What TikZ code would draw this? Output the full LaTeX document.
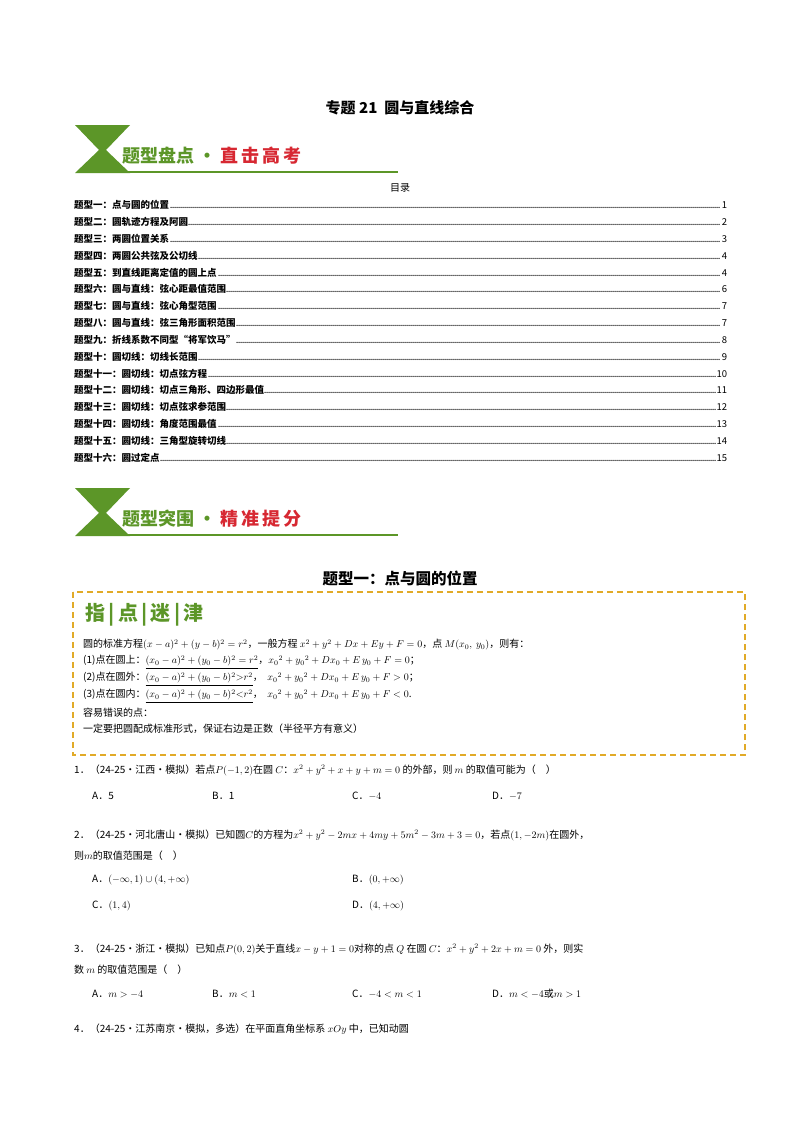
\documentclass[tikz,border=0pt]{standalone}
\usepackage{fontspec}
\setmainfont{Noto Sans CJK SC}
\usepackage{amsmath}
\begin{document}
\begin{tikzpicture}[x=1pt,y=-1pt,
  toc/.style={anchor=west,inner sep=0pt,text width=653pt,font=\fontsize{9.5}{11}\selectfont},
  txt/.style={anchor=west,inner sep=0pt,font=\fontsize{10}{12}\selectfont},
  ban/.style={anchor=west,inner sep=0pt,font=\fontsize{18}{20}\selectfont\bfseries}]
\definecolor{gr}{RGB}{92,150,40}
\definecolor{rd}{RGB}{215,40,50}
\definecolor{og}{RGB}{225,170,40}
\useasboundingbox (0,0) rectangle (800,1132);
\fill[white] (0,0) rectangle (800,1132);
\node[inner sep=0pt,font=\fontsize{15}{17}\selectfont\bfseries] (title) at (400,108) {专题 21\ \ 圆与直线综合};
% banner 1
\fill[gr] (75,125)--(130,125)--(106,150)--(130,173)--(75,173)--(99,150)--cycle;
\draw[gr,line width=1.2pt] (120,172)--(398,172);
\node[ban] (b1) at (122,156) {\textcolor{gr}{题型盘点\ ·\ }\textcolor{rd}{直\,击\,高\,考}};
\node[inner sep=0pt,font=\fontsize{10}{11}\selectfont] (ml) at (400,188) {目录};
\foreach \t/\p [count=\i] in {点与圆的位置/1,圆轨迹方程及阿圆/2,两圆位置关系/3,两圆公共弦及公切线/4,到直线距离定值的圆上点/4,圆与直线：弦心距最值范围/6,圆与直线：弦心角型范围/7,圆与直线：弦三角形面积范围/7,折线系数不同型“将军饮马”/8,圆切线：切线长范围/9,圆切线：切点弦方程/10,圆切线：切点三角形、四边形最值/11,圆切线：切点弦求参范围/12,圆切线：角度范围最值/13,圆切线：三角型旋转切线/14,圆过定点/15}{
  \pgfmathsetmacro\yy{205+16.85*(\i-1)}
  \node[toc] (t\i) at (74,\yy) {\textbf{题型\ifcase\i\or 一\or 二\or 三\or 四\or 五\or 六\or 七\or 八\or 九\or 十\or 十一\or 十二\or 十三\or 十四\or 十五\or 十六\fi：\t}\leaders\hbox to 2pt{\hss.\hss}\hfill\p};
}
% banner 2
\fill[gr] (75,488)--(130,488)--(106,513)--(130,536)--(75,536)--(99,513)--cycle;
\draw[gr,line width=1.2pt] (120,535)--(398,535);
\node[ban] (b2) at (122,519) {\textcolor{gr}{题型突围\ ·\ }\textcolor{rd}{精\,准\,提\,分}};
\node[inner sep=0pt,font=\fontsize{15.5}{17}\selectfont\bfseries] (h1) at (400,578) {题型一：点与圆的位置};
\draw[og,line width=1.3pt,dash pattern=on 6pt off 4pt] (73,592) rectangle (745,755);
\node[anchor=west,inner sep=0pt,font=\fontsize{20}{22}\selectfont\bfseries,text=gr] (zd) at (85,615) {指\,\textbf{|}\,点\,\textbf{|}\,迷\,\textbf{|}\,津};
\node[txt] (l1) at (83,645) {圆的标准方程$(x-a)^2+(y-b)^2=r^2$，一般方程 $x^2+y^2+Dx+Ey+F=0$，点 $M(x_0,\ y_0)$，则有：};
\node[txt] (l2) at (83,662) {(1)点在圆上：\underline{$(x_0-a)^2+(y_0-b)^2=r^2$}，$x_0{}^2+y_0{}^2+Dx_0+E\,y_0+F=0$；};
\node[txt] (l3) at (83,679) {(2)点在圆外：\underline{$(x_0-a)^2+(y_0-b)^2{>}r^2$}，\ \ $x_0{}^2+y_0{}^2+Dx_0+E\,y_0+F>0$；};
\node[txt] (l4) at (83,696) {(3)点在圆内：\underline{$(x_0-a)^2+(y_0-b)^2{<}r^2$}，\ \ $x_0{}^2+y_0{}^2+Dx_0+E\,y_0+F<0$.};
\node[txt] (l5) at (83,713) {容易错误的点：};
\node[txt] (l6) at (83,729) {一定要把圆配成标准形式，保证右边是正数（半径平方有意义）};
% questions
\node[txt] (q1) at (74,770) {1．（24-25·江西·模拟）若点$P(-1,2)$在圆 $C$：$x^2+y^2+x+y+m=0$ 的外部，则 $m$ 的取值可能为（\quad）};
\node[txt] (q1a) at (92,796) {A．5};
\node[txt] (q1b) at (212,796) {B．1};
\node[txt] (q1c) at (352,796) {C．$-4$};
\node[txt] (q1d) at (492,796) {D．$-7$};
\node[txt] (q2) at (74,835) {2．（24-25·河北唐山·模拟）已知圆$C$的方程为$x^2+y^2-2mx+4my+5m^2-3m+3=0$，若点$(1,-2m)$在圆外，};
\node[txt] (q2x) at (74,856) {则$m$的取值范围是（\quad）};
\node[txt] (q2a) at (92,880) {A．$(-\infty,1)\cup(4,+\infty)$};
\node[txt] (q2b) at (352,880) {B．$(0,+\infty)$};
\node[txt] (q2c) at (92,906) {C．$(1,4)$};
\node[txt] (q2d) at (352,906) {D．$(4,+\infty)$};
\node[txt] (q3) at (74,949) {3．（24-25·浙江·模拟）已知点$P(0,2)$关于直线$x-y+1=0$对称的点 $Q$ 在圆 $C$：$x^2+y^2+2x+m=0$ 外，则实};
\node[txt] (q3x) at (74,970) {数 $m$ 的取值范围是（\quad）};
\node[txt] (q3a) at (92,994) {A．$m>-4$};
\node[txt] (q3b) at (212,994) {B．$m<1$};
\node[txt] (q3c) at (352,994) {C．$-4<m<1$};
\node[txt] (q3d) at (492,994) {D．$m<-4$或$m>1$};
\node[txt] (q4) at (74,1029) {4．（24-25·江苏南京·模拟，多选）在平面直角坐标系 $xOy$ 中，已知动圆};
\end{tikzpicture}
\end{document}
